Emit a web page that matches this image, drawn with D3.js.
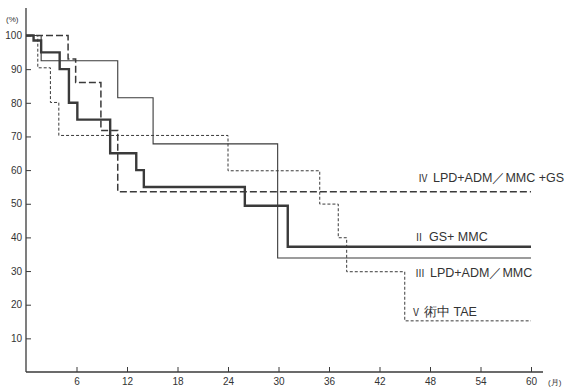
<!DOCTYPE html>
<html>
<head>
<meta charset="utf-8">
<script src="https://cdn.jsdelivr.net/npm/d3@7"></script>
<style>
  body { margin: 0; background: #fff; }
  text { font-family: 'Liberation Sans', Arial, sans-serif; fill: #333; }
</style>
</head>
<body>
<div id="chart"></div>
<script>
// survival curves: step times (months) and survival (%)
const gsMmcMonths = [0, 0.9, 1.8, 4.0, 5.1, 6.1, 10.0, 13.1, 14.0, 26.0, 31.1]
const gsMmcSurvival = [100, 98.5, 95, 90, 80, 75, 65, 60, 55, 49.4, 37.2]

const lpdMonths = [0, 1.8, 10.9, 15.1, 29.9]
const lpdSurvival = [100, 92.5, 81.5, 67.8, 33.9]

const lpdGsMonths = [0, 5.0, 5.9, 8.9, 10.9]
const lpdGsSurvival = [100, 93, 86, 71.8, 53.6]

const taeMonths = [0, 1.4, 2.9, 3.9, 24.0, 34.9, 37.1, 38.1, 45.0]
const taeSurvival = [100, 90.4, 80.1, 70.3, 59.8, 49.9, 39.9, 29.8, 15.2]

const lastMonth = 60

const yTickValues = [10, 20, 30, 40, 50, 60, 70, 80, 90, 100]
const xTickValues = [6, 12, 18, 24, 30, 36, 42, 48, 54, 60]

const seriesLabels = [
  { numeral: 'Ⅳ', name: 'LPD+ADM／MMC +GS' },
  { numeral: 'Ⅱ', name: 'GS+ MMC' },
  { numeral: 'Ⅲ', name: 'LPD+ADM／MMC' },
  { numeral: 'Ⅴ', name: '術中 TAE' },
]

const width = 569
const height = 387

const svg = d3
  .select('#chart')
  .append('svg')
  .attr('width', width)
  .attr('height', height)
  .attr('viewBox', `0 0 ${width} ${height}`)

const x = d3.scaleLinear().domain([0, 60]).range([26, 531])
const y = d3.scaleLinear().domain([0, 100]).range([372, 35.5])

const ink = '#3a3a3a'

function toSteps(months, survival) {
  const pts = months.map((m, i) => [m, survival[i]])
  pts.push([lastMonth, survival[survival.length - 1]])
  return pts
}

const stepLine = d3
  .line()
  .x(d => x(d[0]))
  .y(d => y(d[1]))
  .curve(d3.curveStepAfter)

// axes
svg
  .append('line')
  .attr('x1', x(0))
  .attr('x2', x(0))
  .attr('y1', 8)
  .attr('y2', y(0))
  .attr('stroke', ink)
  .attr('stroke-width', 1.3)

svg
  .append('line')
  .attr('x1', x(0))
  .attr('x2', 543)
  .attr('y1', y(0))
  .attr('y2', y(0))
  .attr('stroke', ink)
  .attr('stroke-width', 1.3)

const yAxis = svg
  .append('g')
  .attr('transform', `translate(${x(0)},0)`)
  .call(
    d3
      .axisRight(y)
      .tickValues(yTickValues)
      .tickSize(5)
      .tickFormat(d3.format('d')),
  )
yAxis.select('.domain').remove()
yAxis.selectAll('.tick line').attr('stroke', ink)
yAxis
  .selectAll('.tick text')
  .attr('text-anchor', 'end')
  .attr('x', -4)
  .style('font-size', '10px')
  .style('fill', '#333')

const xAxis = svg
  .append('g')
  .attr('transform', `translate(0,${y(0)})`)
  .call(d3.axisTop(x).tickValues(xTickValues).tickSize(5).tickFormat(d3.format('d')))
xAxis.select('.domain').remove()
xAxis.selectAll('.tick line').attr('stroke', ink)
xAxis
  .selectAll('.tick text')
  .attr('y', 13)
  .style('font-size', '10px')
  .style('fill', '#333')

svg
  .append('text')
  .attr('x', 6)
  .attr('y', 22)
  .style('font-size', '8px')
  .text('(%)')

svg
  .append('text')
  .attr('x', 548)
  .attr('y', 385)
  .style('font-size', '8px')
  .text('(月)')

// curves
const curves = [
  { pts: toSteps(lpdGsMonths, lpdGsSurvival), w: 1.5, dash: '7,3' },
  { pts: toSteps(taeMonths, taeSurvival), w: 1, dash: '3,2' },
  { pts: toSteps(lpdMonths, lpdSurvival), w: 1.1, dash: null },
  { pts: toSteps(gsMmcMonths, gsMmcSurvival), w: 2.4, dash: null },
]

svg
  .append('g')
  .selectAll('path')
  .data(curves)
  .join('path')
  .attr('d', d => stepLine(d.pts))
  .attr('fill', 'none')
  .attr('stroke', ink)
  .attr('stroke-width', d => d.w)
  .attr('stroke-dasharray', d => d.dash)

// curve labels
const labelPos = [
  { x: 418, y: 182 },
  { x: 414, y: 241 },
  { x: 415, y: 277 },
  { x: 411, y: 316 },
]

const labels = svg
  .append('g')
  .selectAll('text')
  .data(seriesLabels)
  .join('text')
  .attr('y', (d, i) => labelPos[i].y)
  .style('font-size', '12.5px')

labels
  .append('tspan')
  .attr('x', (d, i) => labelPos[i].x)
  .style('font-family', "'Noto Sans CJK JP', sans-serif")
  .style('font-size', '10px')
  .text(d => d.numeral)

labels
  .append('tspan')
  .attr('x', (d, i) => labelPos[i].x + (i === 3 ? 13 : 15))
  .text(d => d.name)
</script>
</body>
</html>
